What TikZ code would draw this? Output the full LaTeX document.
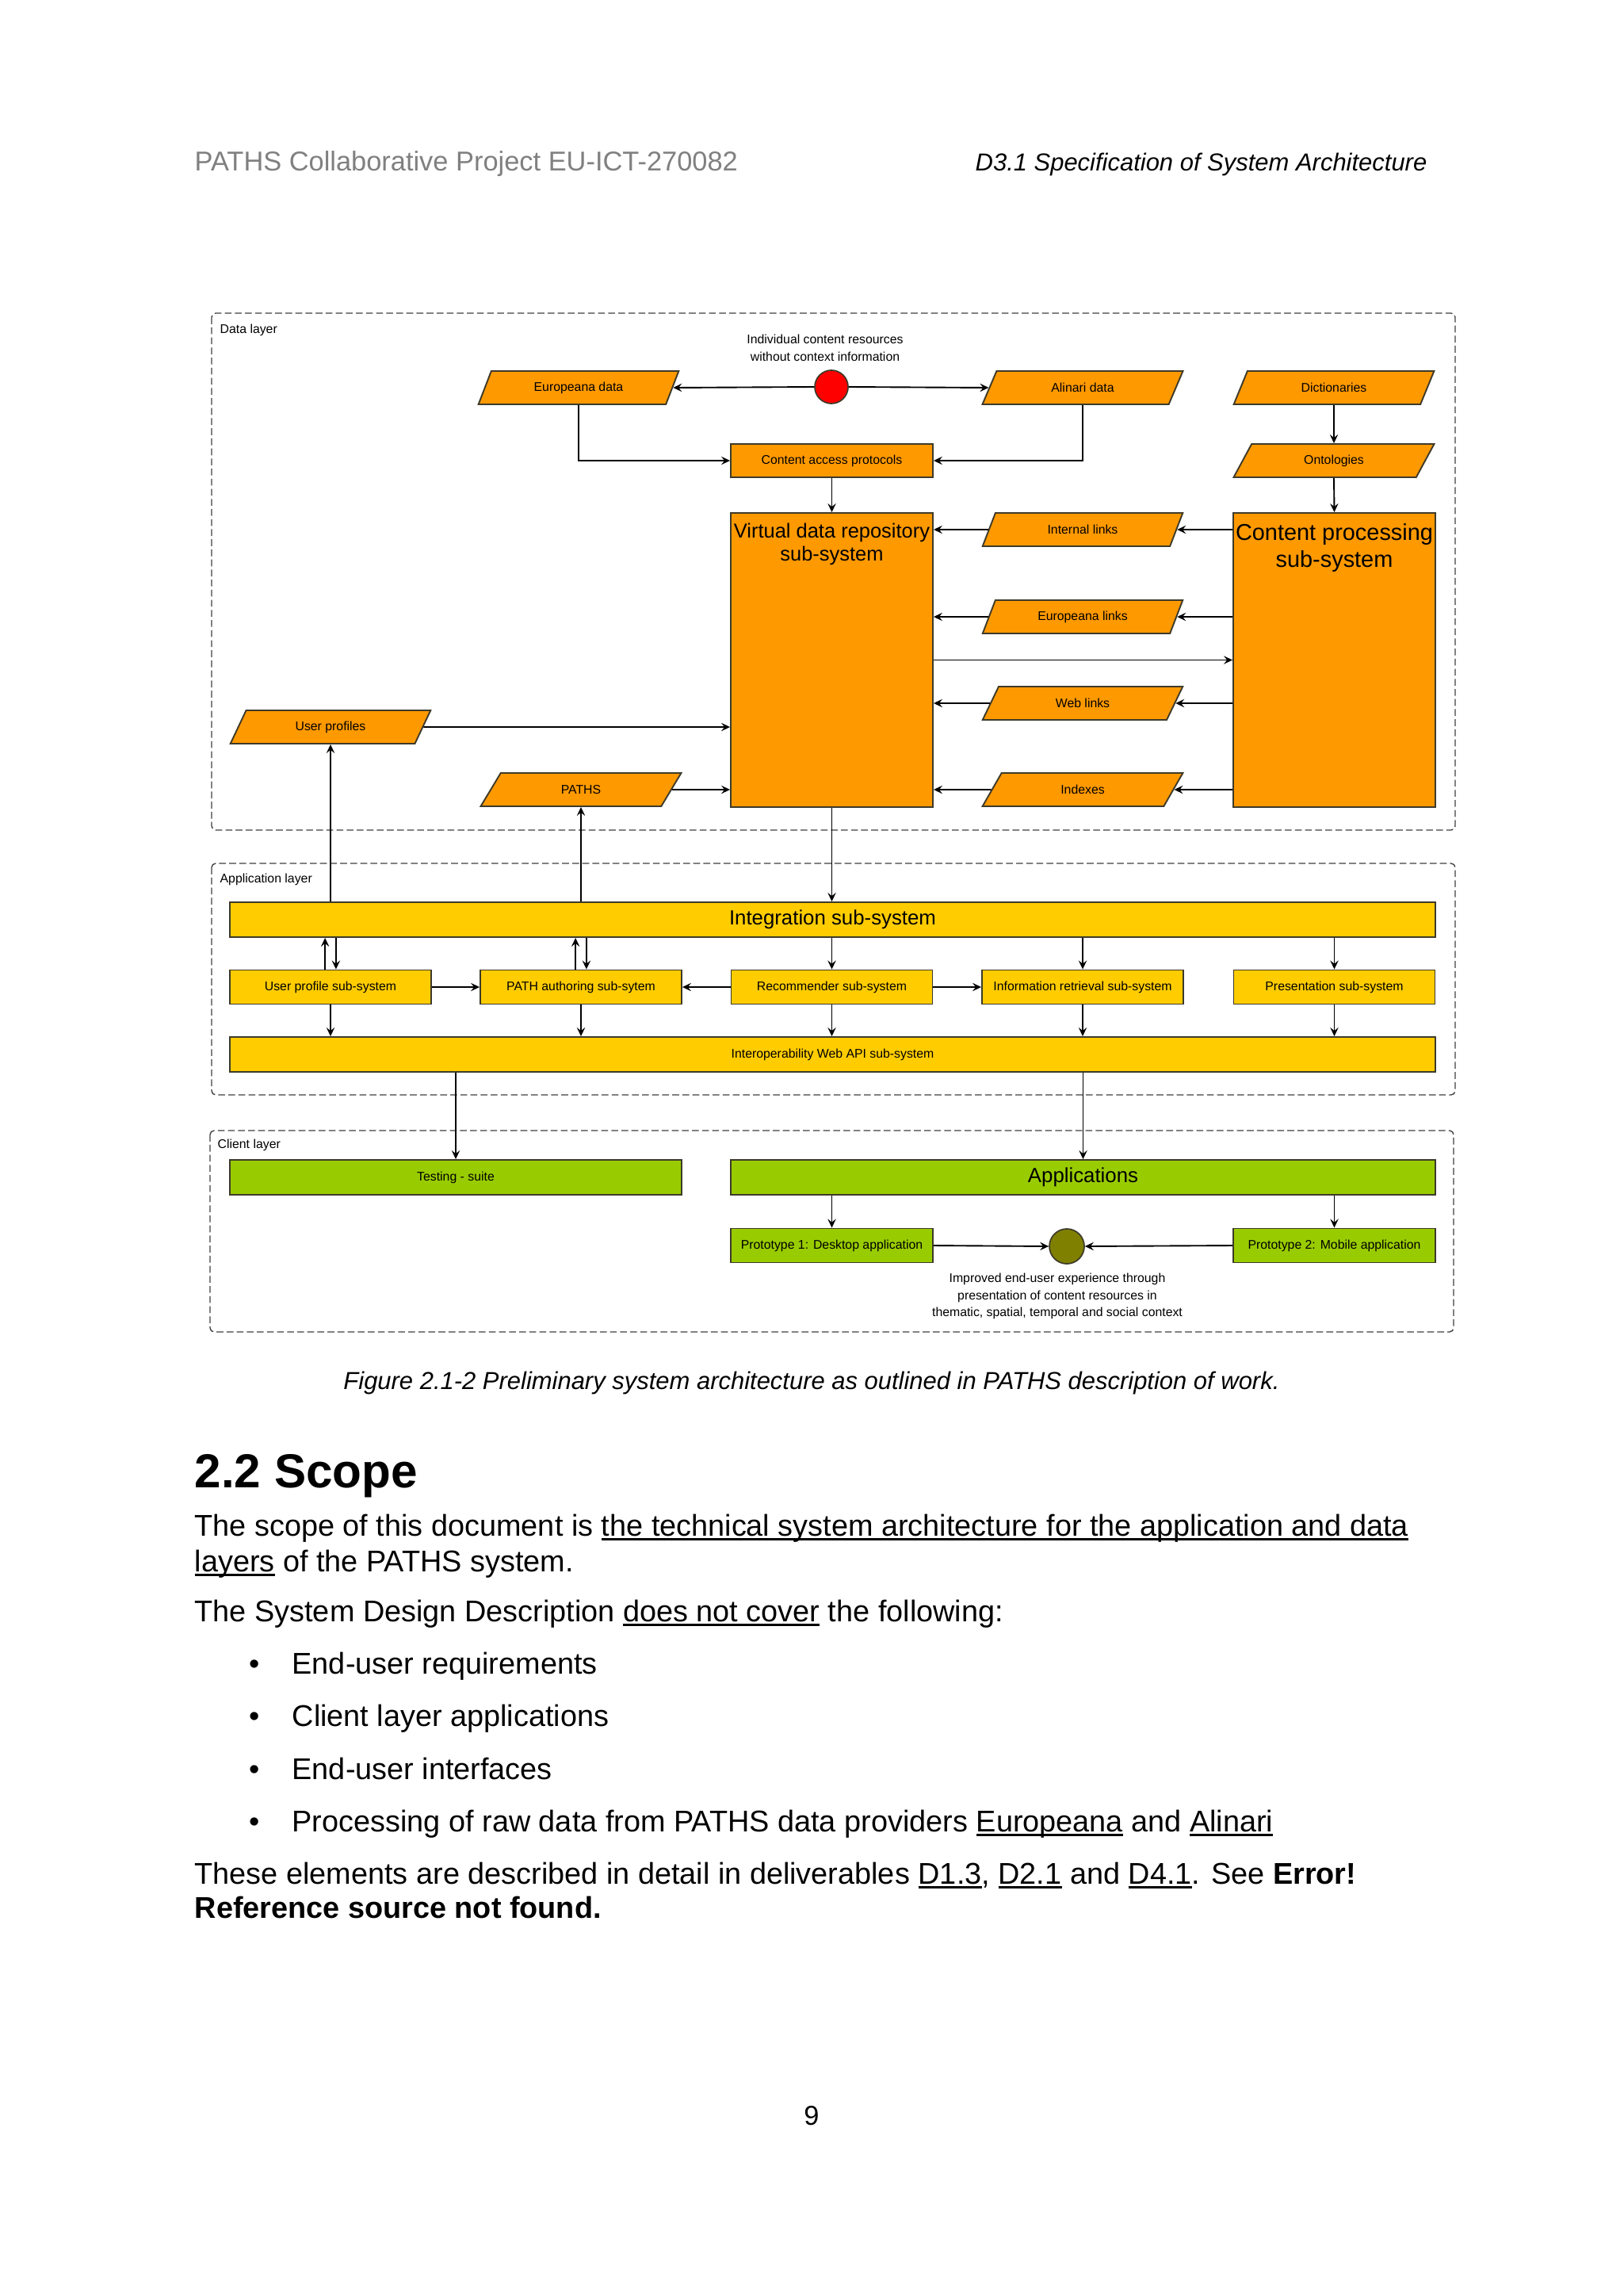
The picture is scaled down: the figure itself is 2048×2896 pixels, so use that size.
\documentclass[tikz,border=0pt]{standalone}
\usepackage{fontspec}
\setmainfont{Liberation Sans}
\usetikzlibrary{arrows.meta,shapes.geometric}
\definecolor{pthorange}{HTML}{FF9900}
\definecolor{pthyellow}{HTML}{FFCC00}
\definecolor{pthgreen}{HTML}{99CC00}
\definecolor{pthred}{HTML}{FF0000}
\definecolor{ptholive}{HTML}{808000}
\definecolor{pthline}{HTML}{3D3A2A}
\definecolor{pthgray}{HTML}{808080}
\newcommand{\px}{0.290662pt}
\newcommand{\tinyfnt}{\fontsize{4.6}{6.3}\selectfont}
\newcommand{\bodyfnt}{\fontsize{11}{13}\selectfont}
\newcommand{\undl}[1]{\setbox0\hbox{#1}\rlap{\rule[-1.6pt]{\wd0}{0.7pt}}\box0\relax}

\begin{document}
\begin{tikzpicture}[x=\px,y=-\px,
  >={Stealth[length=3.2pt,width=3pt,inset=1.2pt]},
  frame/.style={draw=black!75,line width=0.4pt,dash pattern=on 2.5pt off 1.2pt,rounded corners=1.5pt},
  lay/.style={anchor=west,inner sep=0pt,font=\tinyfnt},
  tinytxt/.style={inner sep=0pt,font=\tinyfnt,align=center},
  sbox/.style={draw=pthline,line width=0.55pt,inner sep=0pt,font=\tinyfnt,minimum width=254*\px,minimum height=43*\px},
  dpar/.style={sbox,fill=pthorange,shape=trapezium,trapezium left angle=60.7,trapezium right angle=119.3,
    trapezium stretches=true,minimum width=253*\px,minimum height=42*\px},
  obox/.style={sbox,fill=pthorange},
  ybox/.style={sbox,fill=pthyellow},
  gbox/.style={sbox,fill=pthgreen},
  dot/.style={circle,draw=pthline,line width=0.5pt,minimum size=42*\px,inner sep=0pt},
  conn/.style={->,line width=0.55pt},
  body/.style={anchor=base west,inner sep=0pt,font=\bodyfnt}]
  \useasboundingbox (0,0) rectangle (2048,2896);
  \fill[white] (0,0) rectangle (2048,2896);

  \node[anchor=base west,inner sep=0pt,font=\fontsize{10}{12}\selectfont,text=pthgray] (hdl) at (245,215) {PATHS Collaborative Project EU-ICT-270082};
  \node[anchor=base east,inner sep=0pt,font=\fontsize{9}{11}\selectfont\itshape] (hdr) at (1801,215) {D3.1 Specification of System Architecture};

  % data layer
  \draw[frame] (267,395) rectangle (1836,1047);
  \node[lay] (dlay) at (277,416) {Data layer};
  \node[tinytxt] (restxt) at (1041,439) {Individual content resources\\without context information};
  \node[dot,fill=pthred] (res) at (1049,488) {};
  \node[dpar] (eudata) at (730,489) {Europeana data};
  \node[dpar] (aldata) at (1366,489) {Alinari data};
  \node[dpar] (dict) at (1683,489) {Dictionaries};
  \node[dpar] (onto) at (1683,581) {Ontologies};
  \node[obox,minimum width=255*\px,minimum height=42*\px] (cap) at (1049.5,581) {Content access protocols};
  \node[obox,minimum width=255*\px,minimum height=371*\px,
    label={[anchor=north,align=center,inner sep=4pt,font=\fontsize{7.4}{8.3}\selectfont]north:Virtual data repository\\sub-system}] (vdr) at (1049.5,832.5) {};
  \node[obox,minimum width=255*\px,minimum height=371*\px,
    label={[anchor=north,align=center,inner sep=4pt,font=\fontsize{8.4}{10}\selectfont]north:Content processing\\sub-system}] (cps) at (1683.5,832.5) {};
  \node[dpar] (intl) at (1366,668) {Internal links};
  \node[dpar] (eul) at (1366,778) {Europeana links};
  \node[dpar] (webl) at (1366,887) {Web links};
  \node[dpar] (idx) at (1366,996) {Indexes};
  \node[dpar] (uprof) at (417,917) {User profiles};
  \node[dpar] (paths) at (733,996) {PATHS};

  \draw[conn] (res.west) -- (eudata.east);
  \draw[conn] (res.east) -- (aldata.west);
  \draw[conn] (eudata.south) |- (cap.west);
  \draw[conn] (aldata.south) |- (cap.east);
  \draw[conn] (dict.south) -- (onto.north);
  \draw[conn] (onto.south) -- (cps.north);
  \draw[conn] (cap.south) -- (vdr.north);
  \foreach \lnk in {intl,eul,webl,idx} {
    \draw[conn] (cps.west |- \lnk) -- (\lnk.east);
    \draw[conn] (\lnk.west) -- (vdr.east |- \lnk);
  }
  \draw[conn] (vdr.east) -- (cps.west);
  \draw[conn] (uprof.east) -- (vdr.west |- uprof);
  \draw[conn] (paths.east) -- (vdr.west |- paths);

  % application layer
  \draw[frame] (267,1089) rectangle (1836,1381);
  \node[lay] (alay) at (277,1109) {Application layer};
  \node[ybox,minimum width=1521*\px,minimum height=44*\px,font=\fontsize{7.5}{9}\selectfont] (integ) at (1050.5,1160) {Integration sub-system};
  \node[ybox] (ups) at (417,1245) {User profile sub-system};
  \node[ybox] (pas) at (733,1245) {PATH authoring sub-sytem};
  \node[ybox] (rec) at (1049.5,1245) {Recommender sub-system};
  \node[ybox] (irs) at (1366,1245) {Information retrieval sub-system};
  \node[ybox] (prs) at (1683.5,1245) {Presentation sub-system};
  \node[ybox,minimum width=1521*\px,minimum height=44*\px] (iop) at (1050.5,1330) {Interoperability Web API sub-system};

  \draw[conn] (vdr.south) -- (vdr.south |- integ.north);
  \draw[conn] (uprof.south |- integ.north) -- (uprof.south);
  \draw[conn] (paths.south |- integ.north) -- (paths.south);
  \foreach \sub in {ups,pas} {
    \draw[conn] ([xshift=-2pt]\sub.north) -- ([xshift=-2pt]\sub.north |- integ.south);
    \draw[conn] ([xshift=2pt]\sub.north |- integ.south) -- ([xshift=2pt]\sub.north);
  }
  \foreach \sub in {rec,irs,prs}
    \draw[conn] (\sub.north |- integ.south) -- (\sub.north);
  \foreach \sub in {ups,pas,rec,irs,prs}
    \draw[conn] (\sub.south) -- (\sub.south |- iop.north);
  \draw[conn] (ups.east) -- (pas.west);
  \draw[conn] (rec.west) -- (pas.east);
  \draw[conn] (rec.east) -- (irs.west);

  % client layer
  \draw[frame] (265,1426) rectangle (1834,1680);
  \node[lay] (clay) at (274,1444) {Client layer};
  \node[gbox,minimum width=570*\px,minimum height=44*\px] (test) at (575,1485) {Testing - suite};
  \node[gbox,minimum width=889*\px,minimum height=44*\px,font=\fontsize{7.5}{9}\selectfont] (apps) at (1366.5,1485) {Applications};
  \node[gbox,minimum width=255*\px] (proto1) at (1049.5,1571) {Prototype 1: Desktop application};
  \node[gbox,minimum width=255*\px] (proto2) at (1683.5,1571) {Prototype 2: Mobile application};
  \node[dot,fill=ptholive,minimum size=44*\px] (ux) at (1346,1572) {};
  \node[tinytxt] (uxtxt) at (1334,1635) {Improved end-user experience through\\presentation of content resources in\\thematic, spatial, temporal and social context};

  \draw[conn] (test.north |- iop.south) -- (test.north);
  \draw[conn] (apps.north |- iop.south) -- (apps.north);
  \draw[conn] (proto1.north |- apps.south) -- (proto1.north);
  \draw[conn] (proto2.north |- apps.south) -- (proto2.north);
  \draw[conn] (proto1.east) -- (ux.west);
  \draw[conn] (proto2.west) -- (ux.east);

  \node[anchor=base,inner sep=0pt,font=\fontsize{9}{11}\selectfont\itshape] (capt) at (1024,1752) {Figure 2.1-2 Preliminary system architecture as outlined in PATHS description of work.};

  % text below
  \node[anchor=base west,inner sep=0pt,font=\fontsize{17.5}{20}\selectfont\bfseries] (sect) at (245,1876) {2.2 Scope};
  \node[body] (l1) at (245,1937) {The scope of this document is \undl{the technical system architecture for the application and data}};
  \node[body] (l2) at (245,1982) {\undl{layers} of the PATHS system.};
  \node[body] (l3) at (245,2045) {The System Design Description \undl{does not cover} the following:};
  \foreach \yy/\itm in {2111/End-user requirements,2177/Client layer applications,2244/End-user interfaces} {
    \node[body] at (314,\yy) {•};
    \node[body] at (368,\yy) {\itm};
  }
  \node[body] (b4d) at (314,2310) {•};
  \node[body] (b4) at (368,2310) {Processing of raw data from PATHS data providers \undl{Europeana} and \undl{Alinari}};
  \node[body] (l4) at (245,2376) {These elements are described in detail in deliverables \undl{D1.3}, \undl{D2.1} and \undl{D4.1}. See \textbf{Error!}};
  \node[body] (l5) at (245,2419) {\textbf{Reference source not found.}};
  \node[anchor=base,inner sep=0pt,font=\fontsize{10}{12}\selectfont] (pnum) at (1024,2680) {9};
\end{tikzpicture}
\end{document}
